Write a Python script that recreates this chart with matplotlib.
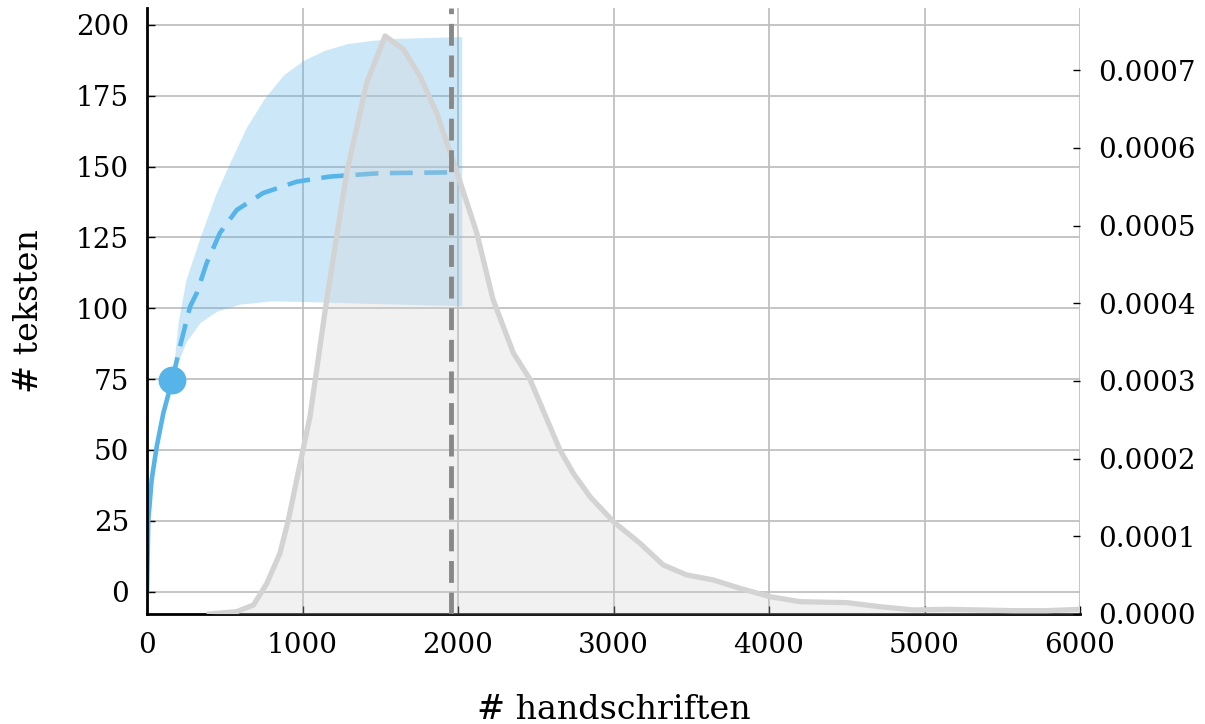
import numpy as np
import matplotlib
matplotlib.use("Agg")
import matplotlib.pyplot as plt

plt.rcParams['font.family'] = ['DejaVu Serif']

# waargenomen curve (rarefactie) en extrapolatie
obs_x = [0, 8, 30, 62, 105, 163]
obs_y = [0, 25, 39.5, 51, 63, 74.8]
ext_x = [163, 212, 277, 320, 384, 469, 577, 747, 963, 1177, 1498, 1990]
ext_y = [74.8, 86.5, 100.6, 105.4, 116, 126.6, 134.7, 140.7, 144.7, 146.5, 147.7, 148]
hi_x = [163, 200, 250, 341, 440, 521, 640, 760, 880, 1005, 1140, 1284, 1450, 1606, 2024]
hi_y = [74.8, 95, 110, 125, 140, 150, 164, 174.5, 182.5, 187.5, 191, 193.4, 194.6, 195.3, 195.9]
lo_x = [163, 200, 250, 341, 450, 600, 800, 1005, 1391, 2024]
lo_y = [74.8, 81, 88, 95, 99, 101.5, 102.6, 102.4, 101.8, 100.9]
vline_x = 1955

# dichtheid van # handschriften
dens_x = [400, 576, 685, 771, 855, 909, 963, 1048, 1156, 1284, 1413, 1531, 1649,
          1756, 1863, 1981, 2120, 2225, 2356, 2463, 2656, 2742, 2849, 2999, 3170,
          3320, 3470, 3642, 3813, 4006, 4199, 4500, 4714, 4926, 5143, 5357, 5571,
          5786, 6000]
dens_y = np.array([0.0, 0.03, 0.116, 0.395, 0.782, 1.21, 1.73, 2.54, 4.05, 5.68,
                   6.84, 7.44, 7.27, 6.92, 6.45, 5.76, 4.91, 4.05, 3.36, 3.02, 2.11,
                   1.81, 1.51, 1.19, 0.911, 0.631, 0.503, 0.438, 0.331, 0.223, 0.159,
                   0.146, 0.094, 0.052, 0.06, 0.052, 0.043, 0.043, 0.06]) * 1e-4

blauw = '#56b4e9'

fig = plt.figure(figsize=(12.05, 7.24), dpi=100)
ax = fig.add_axes([147 / 1205, 1 - 614 / 724, (1080 - 147) / 1205, (614 - 8) / 724])
ax2 = ax.twinx()

# band: boven- en onderrand op een gemeenschappelijk raster
bx = np.union1d(hi_x, lo_x)
ax.fill_between(bx, np.interp(bx, lo_x, lo_y), np.interp(bx, hi_x, hi_y),
                color=blauw, alpha=0.3, linewidth=0)
ax.plot(obs_x, obs_y, color=blauw, lw=3.3)
ax.plot(ext_x, ext_y, color=blauw, lw=3.3, ls=(0, (5, 2.5)))
ax.plot(obs_x[-1], obs_y[-1], 'o', color=blauw, ms=19)

ax2.fill_between(dens_x, 0, dens_y, color='lightgray', alpha=0.3, linewidth=0)
ax2.plot(dens_x, dens_y, color='lightgray', lw=3.8)
ax2.axvline(vline_x, color='#888888', lw=3.5, ls=(0, (4.5, 2)))

ax.set_xlim(0, 6000)
ax.set_ylim(-7.9, 206)
ax2.set_ylim(0, 0.00078)
ax.set_yticks(np.arange(0, 201, 25))
ax.set_xticks(np.arange(0, 6001, 1000))
ax2.set_yticks(np.arange(0, 0.00071, 0.0001))
ax2.set_yticklabels([f'{v:.4f}' for v in np.arange(0, 0.00071, 0.0001)])

ax.grid(True, color='#c0c0c0', lw=1.3)
ax.set_axisbelow(True)

for a in (ax, ax2):
    a.spines['top'].set_visible(False)
    a.spines['right'].set_visible(False)
ax2.spines['left'].set_visible(False)
ax2.spines['bottom'].set_visible(False)
ax.spines['left'].set_linewidth(2)
ax.spines['bottom'].set_linewidth(2)

ax.tick_params(axis='both', direction='in', length=6, width=1, pad=13, labelsize=20)
ax2.tick_params(axis='y', direction='in', length=5, width=1, pad=13, labelsize=20)

ax.set_xlabel('# handschriften', fontsize=24, labelpad=25)
ax.set_ylabel('# teksten', fontsize=24, labelpad=22)

fig.savefig('out.png', dpi=100)
